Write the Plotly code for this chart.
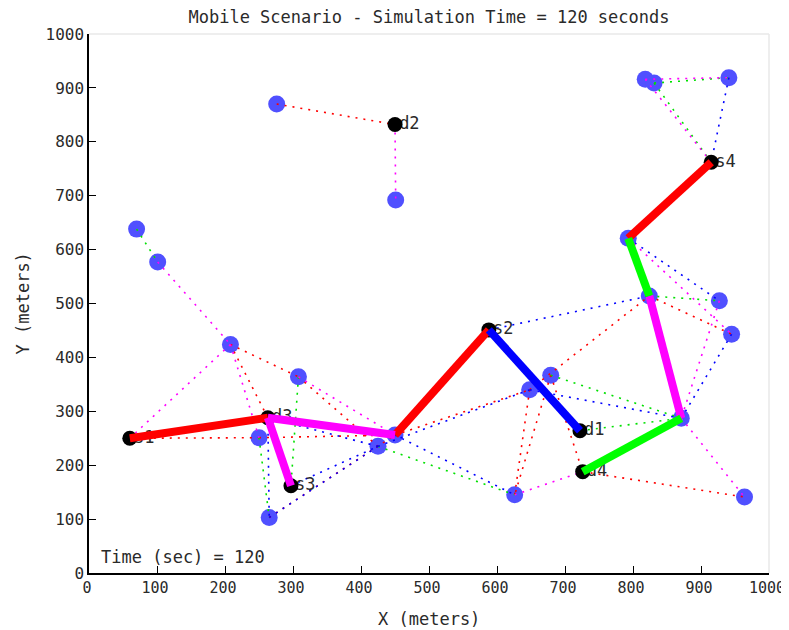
import plotly.graph_objects as go

# ---------------- data ----------------
relay_names = ["n1", "n2", "n3", "n4", "n5", "n6", "n7", "n8", "n9", "n10", "n11",
               "n12", "n13", "n14", "n15", "n16", "n17", "n18", "n19", "n20", "n21", "n22"]
relay_x = [276, 451, 70, 101, 208, 308, 250, 265, 425, 450, 679,
           648, 626, 871, 964, 945, 927, 824, 793, 818, 831, 941]
relay_y = [870, 692, 638, 577, 424, 364, 251, 103, 235, 256, 367,
           340, 145, 287, 141, 443, 505, 514, 621, 916, 909, 919]

end_names = ["s1", "s2", "s3", "s4", "d1", "d2", "d3", "d4"]
end_x = [60, 588, 297, 915, 722, 450, 263, 726]
end_y = [250, 451, 162, 762, 264, 832, 288, 188]

dotted_red = [("n1", "d2"), ("n5", "n6"), ("n5", "d3"), ("s1", "n7"), ("n7", "n10"),
              ("n6", "n9"), ("n8", "n10"), ("n10", "n12"), ("n12", "n18"), ("n12", "n13"),
              ("n11", "n13"), ("n11", "d4"), ("n18", "n16"), ("d4", "n15")]
dotted_green = [("n3", "n4"), ("n7", "n8"), ("n6", "s3"), ("n9", "n13"), ("n11", "n14"),
                ("d1", "n14"), ("n18", "n17"), ("n21", "n22"), ("n21", "s4")]
dotted_blue = [("d3", "n8"), ("d3", "n9"), ("n8", "n9"), ("s3", "n9"), ("n9", "n12"),
               ("n10", "n13"), ("s2", "n18"), ("n12", "n14"), ("n19", "n17"),
               ("n16", "n14"), ("n22", "s4")]
dotted_magenta = [("d2", "n2"), ("n4", "n5"), ("n5", "s1"), ("n5", "n7"), ("n6", "n10"),
                  ("n13", "d4"), ("n19", "n16"), ("n17", "n14"), ("n14", "n15"),
                  ("n20", "n22"), ("n20", "s4")]

route_red = [("s1", "d3"), ("n10", "s2"), ("s4", "n19")]
route_magenta = [("d3", "n10"), ("d3", "s3"), ("n18", "n14")]
route_blue = [("s2", "d1")]
route_green = [("n19", "n18"), ("n14", "d4")]

x_ticks = list(range(0, 1001, 100))
y_ticks = list(range(0, 1001, 100))
sim_time = 120

# ---------------- helpers ----------------
pos = {}
for n, x, y in zip(relay_names, relay_x, relay_y):
    pos[n] = (x, y)
for n, x, y in zip(end_names, end_x, end_y):
    pos[n] = (x, y)


def seg_xy(pairs):
    xs, ys = [], []
    for a, b in pairs:
        xs += [pos[a][0], pos[b][0], None]
        ys += [pos[a][1], pos[b][1], None]
    return xs, ys


FONT = "DejaVu Sans Mono"
TXT = "#2a2a2a"
W, H = 800, 622
fig = go.Figure()

# relay nodes
fig.add_trace(go.Scatter(x=relay_x, y=relay_y, mode="markers",
                         marker=dict(size=17, color="#5050FF", line=dict(width=0)),
                         hoverinfo="skip"))

# dotted neighbour links
for pairs, col in [(dotted_red, "#FF0000"), (dotted_green, "#00E000"),
                   (dotted_blue, "#0000FF"), (dotted_magenta, "#FF00FF")]:
    xs, ys = seg_xy(pairs)
    fig.add_trace(go.Scatter(x=xs, y=ys, mode="lines",
                             line=dict(color=col, width=1.6, dash="2px,6px"),
                             hoverinfo="skip"))

# endpoint labels (invisible marker sets the text offset)
fig.add_trace(go.Scatter(x=end_x, y=end_y, mode="markers+text", text=end_names,
                         textposition="middle right",
                         marker=dict(size=5, opacity=0),
                         textfont=dict(family=FONT, size=17, color=TXT),
                         hoverinfo="skip"))

# endpoint nodes
fig.add_trace(go.Scatter(x=end_x, y=end_y, mode="markers",
                         marker=dict(size=15, color="black", line=dict(width=0)),
                         hoverinfo="skip"))

# routes
for pairs, col in [(route_red, "#FF0000"), (route_magenta, "#FF00FF"),
                   (route_blue, "#0000FF"), (route_green, "#00FF00")]:
    xs, ys = seg_xy(pairs)
    fig.add_trace(go.Scatter(x=xs, y=ys, mode="lines",
                             line=dict(color=col, width=8),
                             hoverinfo="skip"))

axis_common = dict(range=[0, 1000], showgrid=False, zeroline=False,
                   showline=True, linecolor="black", linewidth=1.5,
                   ticks="inside", ticklen=7, tickcolor="black", tickwidth=1,
                   ticklabeloverflow="allow",
                   automargin=False, fixedrange=True)

fig.update_layout(
    width=W, height=H,
    margin=dict(l=81, r=W - 81 - 680, t=26, b=57, autoexpand=False),
    paper_bgcolor="white", plot_bgcolor="white",
    showlegend=False, hovermode=False,
    title=dict(text=f"Mobile Scenario - Simulation Time = {sim_time} seconds",
               x=0.5, xref="paper", xanchor="center",
               y=1 - 9 / H, yref="container", yanchor="middle",
               font=dict(family=FONT, size=17, color=TXT)),
    xaxis=dict(**axis_common, tickvals=x_ticks, ticktext=[str(v) for v in x_ticks],
               tickfont=dict(family=FONT, size=15, color=TXT), ticklabelshift=-2),
    yaxis=dict(**axis_common, tickvals=y_ticks, ticktext=[str(v) for v in y_ticks],
               tickfont=dict(family=FONT, size=16, color=TXT)),
    annotations=[
        dict(text="X (meters)", xref="paper", yref="paper", x=0.5, y=0,
             xanchor="center", yanchor="middle", yshift=-46, showarrow=False,
             font=dict(family=FONT, size=17, color=TXT)),
        dict(text="Y (meters)", xref="paper", yref="paper", x=0, y=0.5,
             xanchor="center", yanchor="middle", xshift=-67, textangle=-90,
             showarrow=False, font=dict(family=FONT, size=17, color=TXT)),
        dict(text=f"Time (sec) = {sim_time}", xref="x", yref="y", x=15, y=30,
             xanchor="left", yanchor="middle", showarrow=False,
             font=dict(family=FONT, size=17, color=TXT)),
    ],
    shapes=[
        dict(type="line", xref="paper", yref="paper", x0=0, x1=1, y0=1, y1=1,
             line=dict(color="#e8e8e8", width=1.5)),
        dict(type="line", xref="paper", yref="paper", x0=1, x1=1, y0=0, y1=1,
             line=dict(color="#e8e8e8", width=1.5)),
    ],
)

fig.write_html("out.html")
